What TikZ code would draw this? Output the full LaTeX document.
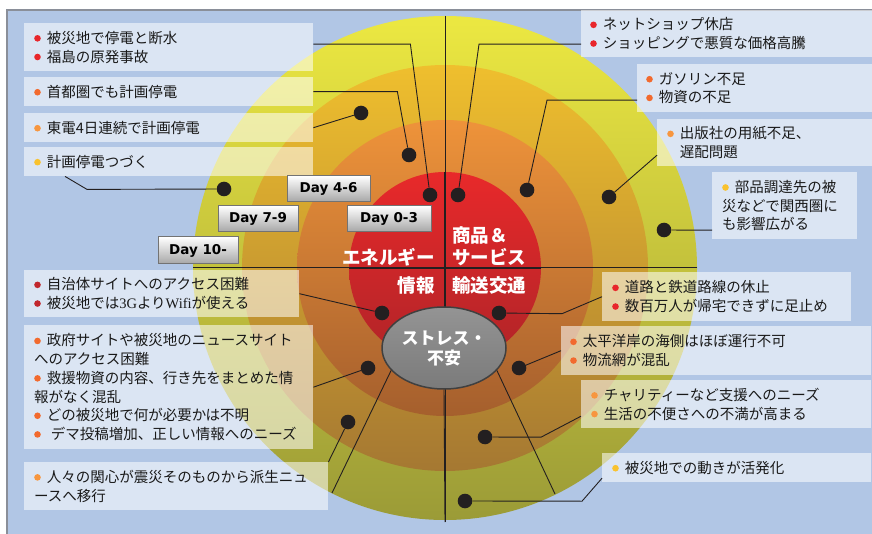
\documentclass[tikz,border=0pt]{standalone}
\usepackage{fontspec}
\newfontfamily\jp{Noto Sans CJK JP}
\newfontfamily\dayf{DejaVu Sans}
\newfontfamily\lser{Liberation Serif}
\usetikzlibrary{shapes.geometric}
\definecolor{bgblue}{HTML}{B1C6E5}
\definecolor{frameC}{HTML}{8A8F99}
\definecolor{yelT}{RGB}{236,232,65}
\definecolor{yelM}{RGB}{228,225,60}
\definecolor{yelB}{RGB}{155,155,55}
\definecolor{golT}{RGB}{239,191,46}
\definecolor{golM}{RGB}{230,172,45}
\definecolor{golB}{RGB}{165,120,50}
\definecolor{orgT}{RGB}{238,147,58}
\definecolor{orgM}{RGB}{225,130,55}
\definecolor{orgB}{RGB}{165,95,45}
\definecolor{redT}{RGB}{232,41,42}
\definecolor{redM}{RGB}{222,38,40}
\definecolor{redB}{RGB}{175,36,40}
\definecolor{cRed}{HTML}{E8262B}
\definecolor{cDRed}{HTML}{C1272D}
\definecolor{cOrg}{HTML}{F26A2E}
\definecolor{cLOrg}{HTML}{F7963F}
\definecolor{cYel}{HTML}{F9C22E}
\definecolor{dotC}{HTML}{231F20}
\newcommand\bul[1]{\tikz[baseline=-5pt]\fill[#1] (0pt,0pt) circle (3.3pt);\hspace{6pt}}
\begin{document}
\begin{tikzpicture}[x=1pt,y=-1pt,
  tbox/.style={fill=white, fill opacity=0.55, text opacity=1, anchor=north west,
    inner xsep=10pt, inner ysep=0pt, align=left, text=black!90,
    font=\jp\fontsize{14.5pt}{18.7pt}\selectfont},
  dot/.style={circle, fill=dotC, inner sep=0pt, minimum size=14.6pt},
  conn/.style={draw=dotC, line width=0.9pt},
  axis/.style={draw=dotC, line width=1pt},
  daybox/.style={draw=black!55, line width=1pt, top color=white, bottom color=black!35,
    inner sep=0pt, font=\dayf\bfseries\fontsize{13.5pt}{15pt}\selectfont},
  qlab/.style={text=white, inner sep=0pt, font=\jp\bfseries\fontsize{18.5pt}{22pt}\selectfont},
]
\useasboundingbox (0,0) rectangle (872,534);
\fill[white] (0,0) rectangle (872,534);
\fill[bgblue] (7,10) rectangle (872,534);
\draw[frameC, line width=1.2pt] (7,534) -- (7,10) -- (872,10);

% rings
\shade[top color=yelT, middle color=yelM, bottom color=yelB] (445,268) circle (252);
\shade[top color=golT, middle color=golM, bottom color=golB] (445,268) circle (203);
\shade[top color=orgT, middle color=orgM, bottom color=orgB] (445,268) circle (148);
\shade[top color=redT, middle color=redM, bottom color=redB] (445,268) circle (96);

% axes
\coordinate (vt) at (445,16);
\coordinate (vb) at (445,522);
\coordinate (hl) at (193,268);
\coordinate (hr) at (697,268);
\draw[axis] (vt) -- (vb);
\draw[axis] (hl) -- (hr);
\coordinate (rvt) at (445,172);
\coordinate (rhl) at (349,268);
\coordinate (rhr) at (541,268);
\draw[axis, line width=2pt] (rvt) -- (445,310);
\draw[axis, line width=2pt] (rhl) -- (rhr);

% text boxes left
\node[tbox, minimum width=289pt, minimum height=48pt, text width=269pt] (b1) at (24,23)
  {\bul{cRed}被災地で停電と断水\\\bul{cRed}福島の原発事故};
\node[tbox, minimum width=289pt, minimum height=29pt, text width=269pt] (b2) at (24,77)
  {\bul{cOrg}首都圏でも計画停電};
\node[tbox, minimum width=289pt, minimum height=29pt, text width=269pt] (b3) at (24,113)
  {\bul{cLOrg}東電4日連続で計画停電};
\node[tbox, minimum width=289pt, minimum height=29pt, text width=269pt] (b4) at (24,147)
  {\bul{cYel}計画停電つづく};

% text boxes right
\node[tbox, inner xsep=9pt, minimum width=291pt, minimum height=47pt, text width=273pt] (r1) at (581,10)
  {\bul{cRed}ネットショップ休店\\\bul{cRed}ショッピングで悪質な価格高騰};
\node[tbox, inner xsep=9pt, minimum width=235pt, minimum height=48pt, text width=217pt] (r2) at (637,64)
  {\bul{cOrg}ガソリン不足\\\bul{cOrg}物資の不足};
\node[tbox, minimum width=215pt, minimum height=47pt, text width=195pt] (r3) at (657,119)
  {\bul{cLOrg}出版社の用紙不足、\\\hspace{12.6pt}遅配問題};
\node[tbox, minimum width=145pt, minimum height=67pt, text width=125pt] (r4) at (712,172)
  {\bul{cYel}部品調達先の被\\災などで関西圏に\\も影響広がる};

% lower left boxes
\node[tbox, minimum width=275pt, minimum height=47pt, text width=255pt] (l1) at (24,270)
  {\bul{cDRed}自治体サイトへのアクセス困難\\\bul{cDRed}被災地では{\lser 3G}より{\lser Wifi}が使える};
\node[tbox, minimum width=289pt, minimum height=124pt, text width=269pt] (l2) at (24,325)
  {\bul{cOrg}政府サイトや被災地のニュースサイト\\へのアクセス困難\\\bul{cOrg}救援物資の内容、行き先をまとめた情\\報がなく混乱\\\bul{cOrg}どの被災地で何が必要かは不明\\\bul{cOrg}\hspace{4pt}デマ投稿増加、正しい情報へのニーズ};
\node[tbox, minimum width=304pt, minimum height=48pt, text width=284pt] (l3) at (24,462)
  {\bul{cLOrg}人々の関心が震災そのものから派生ニュ\\ースへ移行};

% lower right boxes
\node[tbox, minimum width=249pt, minimum height=49pt, text width=229pt] (rb1) at (602,272)
  {\bul{cRed}道路と鉄道路線の休止\\\bul{cRed}数百万人が帰宅できずに足止め};
\node[tbox, inner xsep=9pt, minimum width=310pt, minimum height=49pt, text width=292pt] (rb2) at (561,326)
  {\bul{cOrg}太平洋岸の海側はほぼ運行不可\\\bul{cOrg}物流網が混乱};
\node[tbox, minimum width=290pt, minimum height=48pt, text width=270pt] (rb3) at (581,380)
  {\bul{cLOrg}チャリティーなど支援へのニーズ\\\bul{cLOrg}生活の不便さへの不満が高まる};
\node[tbox, minimum width=269pt, minimum height=29pt, text width=249pt] (rb4) at (602,453)
  {\bul{cYel}被災地での動きが活発化};

% dots
\node[dot] (d1) at (430,195) {};
\node[dot] (d2) at (409,155) {};
\node[dot] (d3) at (361,113) {};
\node[dot] (d4) at (224,189) {};
\node[dot] (dr1) at (458,195) {};
\node[dot] (dr2) at (527,190) {};
\node[dot] (dr3) at (609,197) {};
\node[dot] (dr4) at (664,230) {};
\node[dot] (dl1) at (382,313) {};
\node[dot] (dl2) at (368,368) {};
\node[dot] (dl3) at (348,422) {};
\node[dot] (drb1) at (499,313) {};
\node[dot] (drb2) at (519,368) {};
\node[dot] (drb3) at (485,437) {};
\node[dot] (drb4) at (465,501) {};

% stress ellipse
\node[ellipse, draw=black!75, line width=1.5pt, top color=black!42, bottom color=black!52,
  minimum width=124pt, minimum height=82pt, inner sep=0pt, align=center, text=white,
  font=\jp\bfseries\fontsize{17pt}{20pt}\selectfont] (stress) at (444,348) {ストレス・\\不安};

% connectors
\draw[conn] ([yshift=3pt]b1.east) -- ++(97,0) -- (d1);
\draw[conn] (b2.east) -- ++(84,0) -- (d2);
\draw[conn] (b3.east) -- (d3);
\draw[conn] ([xshift=41pt]b4.south west) -- ++(22,13) -- (d4);
\draw[conn] ([yshift=-10.5pt]r1.west) -- ++(-102,0) -- (dr1);
\draw[conn] ([yshift=-12pt]r2.west) -- ++(-90,0) -- (dr2);
\draw[conn] ([yshift=-12.5pt]r3.west) -- (dr3);
\draw[conn] ([yshift=-24.5pt]r4.west) -- (dr4);
\draw[conn] (l1.east) -- (dl1);
\draw[conn] (l2.east) -- (dl2);
\draw[conn] (l3.north east) -- (dl3);
\draw[conn] (rb1.west) -- ++(-40,17) -- (drb1);
\draw[conn] (rb2.west) -- (drb2);
\draw[conn] ([yshift=-12pt]rb3.west) -- ++(-40,21) -- (drb3);
\draw[conn] ([yshift=-10.5pt]rb4.west) -- ++(-20,23) -- (drb4);

% rays from stress
\coordinate (rl) at (332,493);
\coordinate (rr) at (555,494);
\draw[conn] (stress.203) -- (rl);
\draw[conn] (stress.south) -- (vb);
\draw[conn] (stress.-23) -- (rr);

% quadrant labels
\node[qlab, anchor=west, align=left] (q1) at (452,246) {商品＆\\サービス};
\node[qlab, anchor=east] (q2) at (435,257) {エネルギー};
\node[qlab, anchor=east] (q3) at (435,285) {情報};
\node[qlab, anchor=west] (q4) at (452,285) {輸送交通};

% day boxes
\node[daybox, minimum width=83pt, minimum height=26pt] (day46) at (328.5,189) {Day 4-6};
\node[daybox, minimum width=80pt, minimum height=26pt] (day79) at (258,219) {Day 7-9};
\node[daybox, minimum width=84pt, minimum height=26pt] (day03) at (389,219) {Day 0-3};
\node[daybox, minimum width=80pt, minimum height=27pt] (day10) at (198,250.5) {Day 10-};
\end{tikzpicture}
\end{document}
